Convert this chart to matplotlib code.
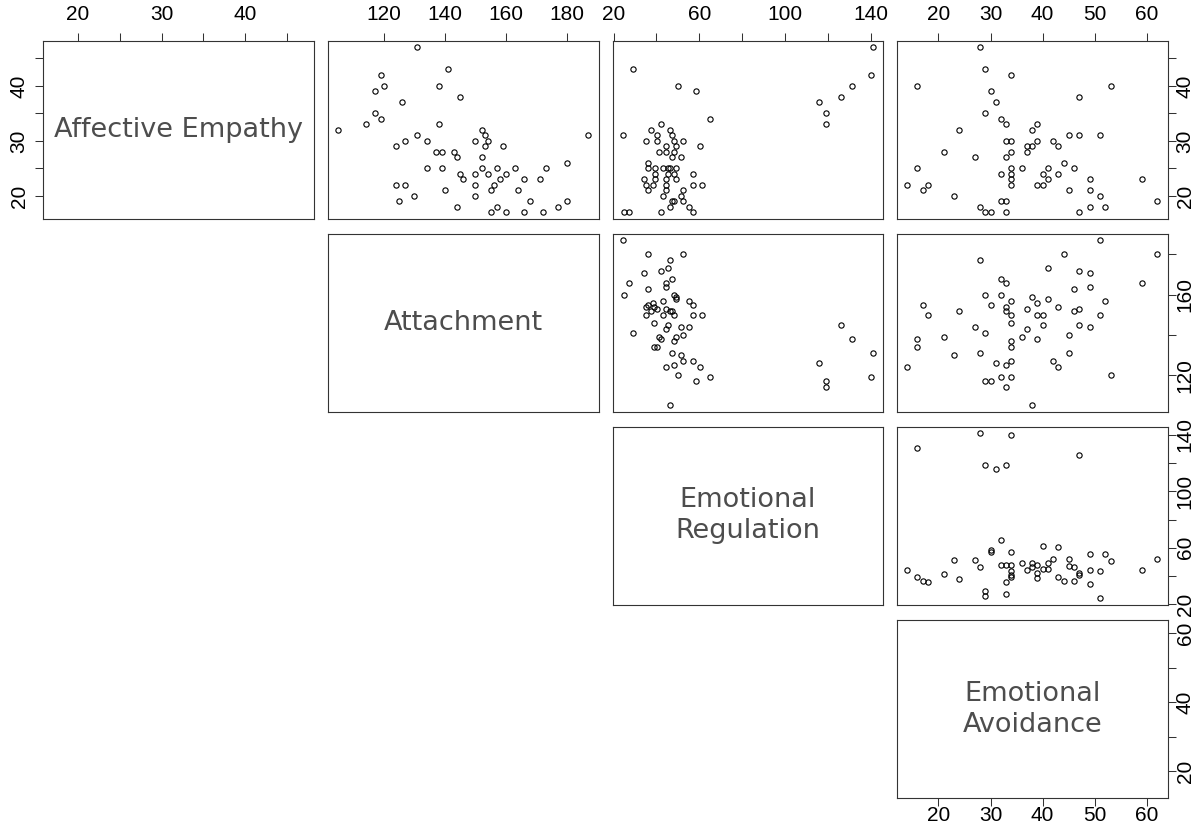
import matplotlib.pyplot as plt

plt.rcParams['font.family'] = ['Liberation Sans', 'DejaVu Sans']

# Affective Empathy (y) against Attachment (x)
att_ae_x = [131, 141, 119, 120, 138, 117, 145, 126, 117, 119, 114, 138, 105, 152, 131, 153,
            187, 127, 134, 150, 154, 124, 153, 159, 137, 139, 143, 144, 152, 180, 134, 139,
            152, 157, 163, 173, 145, 150, 154, 160, 146, 158, 166, 171, 124, 127, 150, 156,
            140, 155, 164, 130, 150, 125, 168, 180, 144, 157, 177, 155, 160, 166, 172]
att_ae_y = [47, 43, 42, 40, 40, 39, 38, 37, 35, 34, 33, 33, 32, 32, 31, 31,
            31, 30, 30, 30, 30, 29, 29, 29, 28, 28, 28, 27, 27, 26, 25, 25,
            25, 25, 25, 25, 24, 24, 24, 24, 23, 23, 23, 23, 22, 22, 22, 22,
            21, 21, 21, 20, 20, 19, 19, 19, 18, 18, 18, 17, 17, 17, 17]

# Affective Empathy (y) against Emotional Regulation (x)
er_ae_x = [141.0, 29.2, 140.1, 50.2, 131.0, 58.3, 126.1, 116.0, 65.1, 119.1, 119.1, 42.2,
           37.3, 46.3, 24.2, 40.2, 47.2, 35.2, 40.2, 48.3, 52.2, 44.3, 49.2, 60.3,
           41.2, 44.3, 48.3, 47.2, 51.3, 36.2, 36.2, 39.3, 43.2, 45.2, 46.3, 49.2,
           39.3, 45.2, 48.3, 57.2, 34.2, 39.3, 44.3, 49.2, 35.2, 38.2, 44.3, 57.2,
           61.2, 36.2, 44.3, 52.2, 43.2, 51.3, 47.2, 48.3, 52.2, 46.3, 55.1, 25.1,
           27.2, 42.2, 57.2]
er_ae_y = [47, 43, 42, 40, 40, 39, 38, 37, 34, 35, 33, 33,
           32, 32, 31, 31, 31, 30, 30, 30, 30, 29, 29, 29,
           28, 28, 28, 27, 27, 26, 25, 25, 25, 25, 25, 25,
           24, 24, 24, 24, 23, 23, 23, 23, 22, 22, 22, 22,
           22, 21, 21, 21, 20, 20, 19, 19, 19, 18, 18, 17,
           17, 17, 17]

# Affective Empathy (y) against Emotional Avoidance (x)
ea_ae_x = [28, 29, 34, 16, 53, 30, 31, 47, 29, 32, 33, 24, 38, 39, 33, 34,
           39, 42, 45, 47, 51, 37, 38, 43, 21, 34, 37, 27, 33, 44, 16, 34,
           36, 41, 46, 32, 34, 40, 43, 34, 41, 49, 59, 14, 18, 34, 39, 40,
           17, 45, 49, 23, 51, 32, 33, 62, 28, 49, 52, 29, 30, 33, 47]
ea_ae_y = [47, 43, 42, 40, 40, 39, 37, 38, 35, 34, 33, 32, 32, 33, 30, 30,
           30, 30, 31, 31, 31, 29, 29, 29, 28, 28, 28, 27, 27, 26, 25, 25,
           25, 25, 25, 24, 24, 24, 24, 23, 23, 23, 23, 22, 22, 22, 22, 22,
           21, 21, 21, 20, 20, 19, 19, 19, 18, 18, 18, 17, 17, 17, 17]

# Attachment (y) against Emotional Regulation (x)
er_att_x = [24.2, 36.3, 52.2, 46.3, 42.2, 45.2, 34.2, 47.2, 27.3, 44.3, 44.3, 36.3,
            25.1, 48.3, 49.2, 49.2, 43.2, 55.1, 57.2, 38.2, 36.2, 35.2, 39.1, 40.2,
            37.3, 44.3, 46.3, 47.2, 35.2, 43.2, 48.3, 57.2, 61.2, 39.1, 45.2, 44.3,
            51.3, 55.1, 29.2, 52.2, 49.2, 41.2, 42.2, 48.3, 39.1, 40.2, 47.2, 51.3,
            52.2, 57.2, 48.3, 44.3, 60.3, 50.2, 65.1, 58.3, 46.3, 126.1, 131.0, 141.0,
            116.0, 140.1, 119.1, 119.1]
er_att_y = [187, 180, 180, 177, 172, 173, 171, 168, 166, 166, 164, 163,
            160, 160, 159, 158, 157, 157, 155, 156, 155, 154, 154, 153,
            152, 153, 152, 152, 150, 150, 150, 150, 150, 146, 145, 143,
            144, 144, 141, 140, 139, 139, 138, 137, 134, 134, 131, 130,
            127, 127, 125, 124, 124, 120, 119, 117, 105, 145, 138, 131,
            126, 119, 117, 114]

# Attachment (y) against Emotional Avoidance (x)
ea_att_x = [14, 16, 16, 17, 18, 21, 23, 24, 27, 28, 28, 29, 29, 29, 30, 30,
            31, 32, 32, 32, 33, 33, 33, 33, 33, 34, 34, 34, 34, 34, 34, 34,
            36, 37, 37, 38, 38, 39, 39, 39, 40, 40, 41, 41, 42, 43, 43, 44,
            45, 45, 46, 46, 47, 47, 47, 49, 49, 49, 51, 51, 52, 53, 59, 62]
ea_att_y = [124, 138, 134, 155, 150, 139, 130, 152, 144, 177, 131, 160, 141, 117, 117, 155,
            126, 168, 160, 119, 166, 154, 152, 125, 114, 157, 150, 146, 137, 134, 127, 119,
            139, 153, 143, 159, 105, 156, 150, 138, 150, 145, 173, 158, 127, 154, 124, 180,
            140, 131, 163, 152, 172, 153, 145, 171, 164, 144, 187, 150, 157, 120, 166, 180]

# Emotional Regulation (y) against Emotional Avoidance (x)
ea_er_x = [14, 16, 16, 17, 18, 21, 23, 24, 27, 28, 28, 29, 29, 29, 30, 30,
           31, 32, 32, 33, 33, 33, 33, 34, 34, 34, 34, 34, 34, 36, 37, 38,
           38, 39, 39, 39, 40, 40, 41, 41, 42, 43, 43, 44, 45, 45, 46, 46,
           47, 47, 47, 49, 49, 49, 51, 51, 52, 53, 59, 62]
ea_er_y = [44.4, 130.9, 39.5, 36.6, 35.5, 41.3, 51.4, 37.6, 51.4, 140.9, 46.3, 118.9,
           29.4, 25.6, 58.2, 57.2, 115.9, 65.2, 48.1, 118.9, 48.1, 35.5, 27.5, 140.0,
           57.3, 48.1, 43.4, 40.4, 39.2, 49.5, 44.4, 49.5, 46.3, 48.1, 42.5, 38.5,
           61.3, 45.3, 49.5, 45.3, 52.4, 60.3, 39.5, 36.6, 52.4, 47.2, 46.3, 36.6,
           125.9, 42.5, 40.4, 55.4, 44.4, 34.5, 43.4, 24.5, 55.4, 50.5, 44.4, 52.4]

var_labels = ['Affective Empathy', 'Attachment', 'Emotional\nRegulation', 'Emotional\nAvoidance']


def padded(vals):
    lo, hi = min(vals), max(vals)
    r = hi - lo
    return lo - 0.04 * r, hi + 0.04 * r


ae_lim = padded(att_ae_y + er_ae_y + ea_ae_y)
att_lim = padded(att_ae_x + er_att_y + ea_att_y)
er_lim = padded(er_ae_x + er_att_x + ea_er_y)
ea_lim = padded(ea_ae_x + ea_att_x + ea_er_x)
lims = [ae_lim, att_lim, er_lim, ea_lim]

# tick positions, labels on the top/bottom axes and labels on the side axes
ticks = [[20, 25, 30, 35, 40, 45], [120, 140, 160, 180],
         [20, 40, 60, 80, 100, 120, 140], [20, 30, 40, 50, 60]]
h_labels = [['20', '', '30', '', '40', ''], ['120', '140', '160', '180'],
            ['20', '', '60', '', '100', '', '140'], ['20', '30', '40', '50', '60']]
v_labels = [['20', '', '30', '', '40', ''], ['120', '', '160', ''],
            ['20', '', '60', '', '100', '', '140'], ['20', '', '40', '', '60']]

W, H = 1202, 832
lefts = [43, 328, 612.5, 897]
tops = [40.7, 233.7, 426.7, 620]
pw, ph = 270.5, 178.3

fig = plt.figure(figsize=(W / 100, H / 100), dpi=100)

axes = {}
for i in range(4):
    for j in range(i, 4):
        ax = fig.add_axes([lefts[j] / W, 1 - (tops[i] + ph) / H, pw / W, ph / H])
        ax.set_xlim(lims[j])
        ax.set_ylim(lims[i])
        ax.set_xticks(ticks[j])
        ax.set_yticks(ticks[i])
        ax.set_xticklabels(h_labels[j])
        ax.set_yticklabels(v_labels[i], rotation=90, va='center')
        for s in ax.spines.values():
            s.set_color('#333333')
            s.set_linewidth(0.8)
        ax.tick_params(length=5.8, width=0.75, color='#333333', labelsize=15,
                       top=False, bottom=False, left=False, right=False,
                       labeltop=False, labelbottom=False, labelleft=False, labelright=False)
        axes[(i, j)] = ax

# axes that carry ticks, as in the reference
axes[(0, 0)].tick_params(axis='x', top=True, labeltop=True, pad=6.5)
axes[(0, 0)].tick_params(axis='y', left=True, labelleft=True, pad=4.5)
axes[(0, 1)].tick_params(axis='x', top=True, labeltop=True, pad=6.5)
axes[(0, 2)].tick_params(axis='x', top=True, labeltop=True, pad=6.5)
axes[(0, 3)].tick_params(axis='x', top=True, labeltop=True, pad=6.5)
for i in range(4):
    axes[(i, 3)].tick_params(axis='y', right=True, labelright=True, pad=0)
axes[(3, 3)].tick_params(axis='x', bottom=True, labelbottom=True, pad=0)

# diagonal: variable names
for k in range(4):
    ax = axes[(k, k)]
    ax.text(0.5, 0.5, var_labels[k], transform=ax.transAxes, ha='center', va='center',
            fontsize=19.5, color='#4d4d4d', family='DejaVu Sans', linespacing=1.25)

mk = dict(linestyle='none', marker='o', mfc='none', mec='black', ms=3.8, mew=0.8)
axes[(0, 1)].plot(att_ae_x, att_ae_y, **mk)
axes[(0, 2)].plot(er_ae_x, er_ae_y, **mk)
axes[(0, 3)].plot(ea_ae_x, ea_ae_y, **mk)
axes[(1, 2)].plot(er_att_x, er_att_y, **mk)
axes[(1, 3)].plot(ea_att_x, ea_att_y, **mk)
axes[(2, 3)].plot(ea_er_x, ea_er_y, **mk)

fig.savefig('out.png', dpi=100)
